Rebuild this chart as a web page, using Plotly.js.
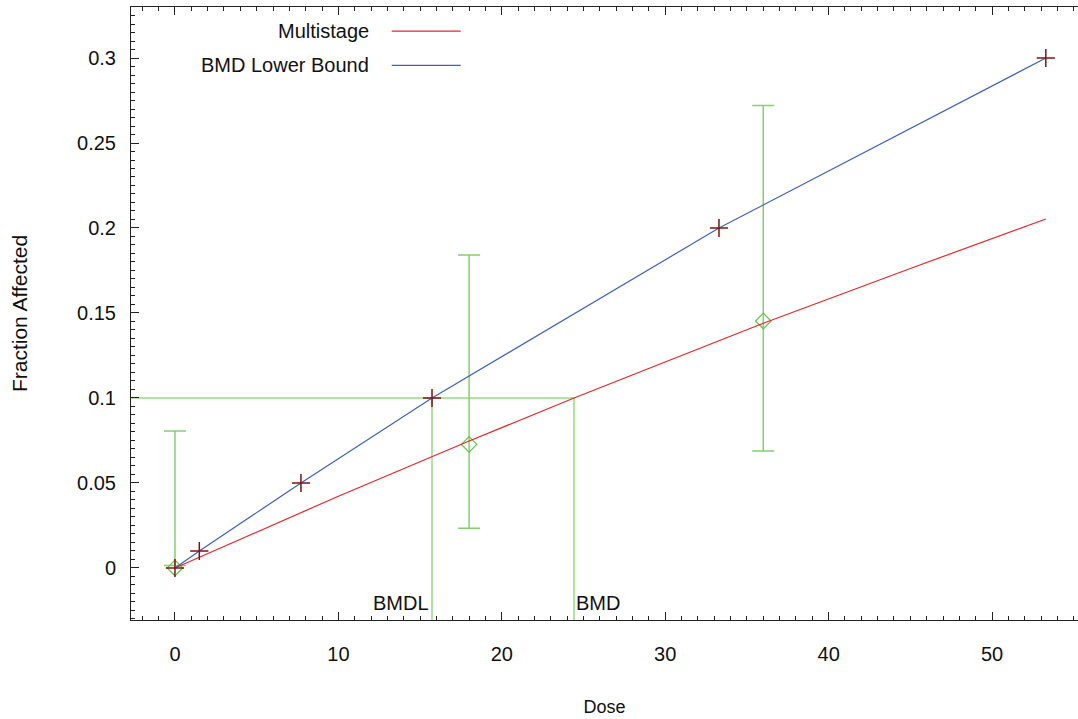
<!DOCTYPE html>
<html>
<head>
<meta charset="utf-8">
<script src="https://cdn.plot.ly/plotly-3.0.1.min.js"></script>
<style>html,body{margin:0;padding:0;background:#fff;}#chart{width:1078px;height:719px;}</style>
</head>
<body>
<div id="chart"></div>
<script>
// Observed data: dose groups, fraction affected and confidence limits
var doseObs = [0, 18, 36];
var fracObs = [0, 0.0727, 0.1453];
var ciUpper = [0.0806, 0.1841, 0.2720];
var ciLower = [0.0015, 0.0234, 0.0688];

// Multistage fitted curve
var doseModel = [0, 10, 18, 24.42, 36, 45, 53.29];
var fracModel = [0, 0.0422, 0.0747, 0.1, 0.1440, 0.1762, 0.2053];

// BMD lower bound curve with its markers
var doseLower = [0, 1.49, 7.71, 15.73, 33.29, 53.29];
var fracLower = [0, 0.01, 0.05, 0.1, 0.2, 0.3];

// Benchmark values
var bmr = 0.1;
var bmd = 24.42;
var bmdl = 15.73;

var xRange = [-2.69, 55.26];
var yRange = [-0.0306, 0.33];

var xTicks = [0, 10, 20, 30, 40, 50];
var yTicks = [0, 0.05, 0.1, 0.15, 0.2, 0.25, 0.3];
var yTickText = ['0', '0.05', '0.1', '0.15', '0.2', '0.25', '0.3'];

var legendNames = ['Multistage', 'BMD Lower Bound'];

var FONT = 'Liberation Sans, Arial, Helvetica, sans-serif';
var GREEN = '#66c44c';
var GREEN_ERR = '#86cf70';
var RED = '#e8262a';
var BLUE = '#3e62be';
var DARKRED = '#7a1414';

var traces = [
  // BMR horizontal line
  {x: [xRange[0], bmd], y: [bmr, bmr], mode: 'lines', line: {color: GREEN, width: 1}, hoverinfo: 'skip'},
  // BMDL vertical
  {x: [bmdl, bmdl], y: [bmr, yRange[0]], mode: 'lines', line: {color: GREEN, width: 1}, hoverinfo: 'skip'},
  // BMD vertical
  {x: [bmd, bmd], y: [bmr, yRange[0]], mode: 'lines', line: {color: GREEN, width: 1}, hoverinfo: 'skip'},
  // Observed data with error bars
  {x: doseObs, y: fracObs, mode: 'markers',
   marker: {symbol: 'diamond-open', size: 12, color: GREEN, line: {color: GREEN, width: 1.2}},
   error_y: {type: 'data', symmetric: false,
     array: ciUpper.map(function(u, i){ return u - fracObs[i]; }),
     arrayminus: fracObs.map(function(f, i){ return f - ciLower[i]; }),
     color: GREEN_ERR, thickness: 1.5, width: 11}},
  // Multistage
  {x: doseModel, y: fracModel, mode: 'lines', name: legendNames[0], line: {color: RED, width: 1.2}},
  // BMD lower bound
  {x: doseLower, y: fracLower, mode: 'lines+markers', name: legendNames[1], line: {color: BLUE, width: 1.2},
   marker: {symbol: 'cross-thin', size: 13, color: DARKRED, line: {color: DARKRED, width: 1.5}}}
];

var axisCommon = {
  showgrid: false, zeroline: false, showline: true, linecolor: '#222', linewidth: 1,
  ticks: 'inside', ticklen: 8, tickwidth: 1, tickcolor: '#222',
  tickfont: {family: FONT, size: 20, color: '#111'},
  fixedrange: true
};

var layout = {
  width: 1078, height: 719,
  margin: {l: 131, r: 0, t: 7, b: 99, pad: 0},
  paper_bgcolor: '#fff', plot_bgcolor: '#fff',
  showlegend: false,
  font: {family: FONT, color: '#111'},
  xaxis: Object.assign({}, axisCommon, {
    range: xRange, tickmode: 'array', tickvals: xTicks, ticktext: xTicks.map(String),
    mirror: 'ticks', ticklabelstandoff: 16,
    minor: {dtick: 1, ticks: 'inside', ticklen: 4, tickcolor: '#222', tickwidth: 1, showgrid: false},
    title: {text: 'Dose', font: {family: FONT, size: 18, color: '#111'}, standoff: 36}
  }),
  yaxis: Object.assign({}, axisCommon, {
    range: yRange, tickmode: 'array', tickvals: yTicks, ticktext: yTickText,
    ticklabelstandoff: 10,
    minor: {dtick: 0.005, ticks: 'inside', ticklen: 4, tickcolor: '#222', tickwidth: 1, showgrid: false},
    title: {text: 'Fraction Affected', font: {family: FONT, size: 21, color: '#111'}, standoff: 43}
  }),
  annotations: [
    {x: bmdl, y: -0.0206, xref: 'x', yref: 'y', text: 'BMDL', showarrow: false, xanchor: 'right', yanchor: 'middle',
     font: {family: FONT, size: 20, color: '#111'}, xshift: -1},
    {x: bmd, y: -0.0206, xref: 'x', yref: 'y', text: 'BMD', showarrow: false, xanchor: 'left', yanchor: 'middle',
     font: {family: FONT, size: 20, color: '#111'}, xshift: 0},
    {x: 0.2534, y: 0.9608, xref: 'paper', yref: 'paper', text: legendNames[0], showarrow: false, xanchor: 'right', yanchor: 'middle',
     font: {family: FONT, size: 20, color: '#111'}},
    {x: 0.2534, y: 0.9049, xref: 'paper', yref: 'paper', text: legendNames[1], showarrow: false, xanchor: 'right', yanchor: 'middle',
     font: {family: FONT, size: 20, color: '#111'}}
  ],
  shapes: [
    {type: 'line', xref: 'paper', yref: 'paper', x0: 0.2753, x1: 0.3482, y0: 0.9608, y1: 0.9608, line: {color: RED, width: 1.2}},
    {type: 'line', xref: 'paper', yref: 'paper', x0: 0.2753, x1: 0.3482, y0: 0.9049, y1: 0.9049, line: {color: BLUE, width: 1.2}}
  ]
};

Plotly.newPlot('chart', traces, layout, {staticPlot: true, displayModeBar: false});
</script>
</body>
</html>
